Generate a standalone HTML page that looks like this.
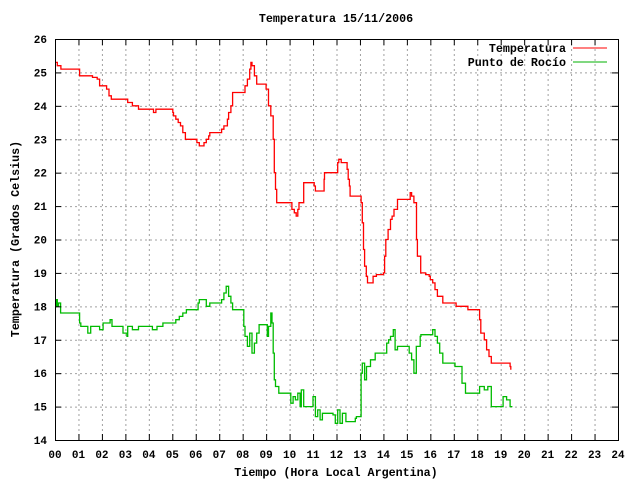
<!DOCTYPE html>
<html><head><meta charset="utf-8"><style>
html,body{margin:0;padding:0;background:#fff}
svg{display:block}
text{font-family:"Liberation Mono","DejaVu Sans Mono",monospace;font-weight:bold;fill:#000}
</style></head><body>
<svg id="chart" width="640" height="480" viewBox="0 0 640 480" xmlns="http://www.w3.org/2000/svg">
<rect width="640" height="480" fill="#fff"/>
<g id="grid"></g>
<g id="series"></g>
<g id="axes"></g>
<text x="336" y="22" text-anchor="middle" font-size="11.7">Temperatura 15/11/2006</text>
<text x="336" y="476" text-anchor="middle" font-size="11.7">Tiempo (Hora Local Argentina)</text>
<text transform="translate(19,239) rotate(-90)" text-anchor="middle" font-size="11.7">Temperatura (Grados Celsius)</text>
<g>
<text x="566" y="52" text-anchor="end" font-size="11.7">Temperatura</text>
<line x1="573" y1="48" x2="607" y2="48" stroke="#ff0000" stroke-width="1"/>
<text x="566" y="66" text-anchor="end" font-size="11.7">Punto de Rocío</text>
<line x1="573" y1="62" x2="607" y2="62" stroke="#00b000" stroke-width="1"/>
</g>
</svg>
<script>
const xTicks=["00","01","02","03","04","05","06","07","08","09","10","11","12","13","14","15","16","17","18","19","20","21","22","23","24"];
const yTicks=[14,15,16,17,18,19,20,21,22,23,24,25,26];
const tempHours=[0,0.1,0.25,1.04,1.05,1.6,1.8,1.9,2.06,2.2,2.3,2.4,3.07,3.1,3.3,3.56,4.13,4.2,4.3,4.5,5.02,5.05,5.15,5.25,5.35,5.45,5.56,6.0,6.05,6.15,6.32,6.35,6.45,6.55,6.6,7.03,7.1,7.2,7.35,7.4,7.5,7.57,8.03,8.1,8.2,8.3,8.35,8.4,8.5,8.6,8.97,9.0,9.1,9.2,9.3,9.35,9.4,9.45,10.03,10.1,10.2,10.28,10.35,10.4,10.56,10.6,11.02,11.05,11.1,11.44,11.47,11.49,12.01,12.05,12.1,12.2,12.41,12.45,12.5,12.55,12.58,13.03,13.05,13.1,13.15,13.2,13.27,13.32,13.52,13.56,13.7,14.0,14.05,14.1,14.2,14.3,14.37,14.45,14.6,15.03,15.14,15.2,15.3,15.41,15.45,15.59,15.8,15.95,16.0,16.1,16.2,16.3,16.53,17.07,17.1,17.55,17.6,18.07,18.1,18.15,18.3,18.4,18.5,18.6,19.37,19.4,19.43];
const tempVals=[25.3,25.2,25.1,25.1,24.9,24.85,24.8,24.6,24.6,24.5,24.3,24.2,24.2,24.1,24.0,23.9,23.9,23.8,23.9,23.9,23.8,23.7,23.6,23.5,23.4,23.2,23.0,23.0,22.9,22.8,22.8,22.9,23.0,23.1,23.2,23.2,23.3,23.4,23.6,23.8,24.0,24.4,24.4,24.6,24.8,25.1,25.3,25.2,24.9,24.65,24.65,24.5,24.0,23.7,23.0,22.0,21.5,21.1,21.1,20.9,20.8,20.7,20.9,21.1,21.1,21.7,21.7,21.6,21.45,21.45,21.8,22.0,22.0,22.3,22.4,22.3,22.3,22.1,21.8,21.6,21.3,21.3,21.1,20.5,19.7,19.2,18.9,18.7,18.7,18.9,18.95,19.0,19.5,20.0,20.3,20.6,20.7,20.9,21.2,21.2,21.4,21.3,21.1,20.0,19.5,19.0,18.95,18.9,18.8,18.7,18.5,18.3,18.1,18.1,18.0,18.0,17.9,17.9,17.6,17.2,17.0,16.7,16.5,16.3,16.3,16.2,16.1];
const dewHours=[0,0.05,0.1,0.15,0.24,1.04,1.05,1.1,1.3,1.4,1.5,1.52,1.8,1.9,2.0,2.05,2.35,2.43,2.63,2.9,3.07,3.1,3.3,3.56,4.13,4.15,4.3,4.35,4.58,4.6,5.1,5.15,5.3,5.45,5.6,6.03,6.1,6.15,6.35,6.45,6.5,6.6,7.03,7.1,7.2,7.3,7.4,7.5,7.57,8.0,8.05,8.1,8.2,8.3,8.4,8.5,8.6,8.7,9.0,9.05,9.1,9.2,9.25,9.3,9.35,9.4,9.54,10.0,10.05,10.15,10.25,10.35,10.45,10.5,10.6,11.0,11.1,11.2,11.3,11.4,11.5,11.85,11.95,12.05,12.15,12.25,12.4,12.8,12.85,13.05,13.1,13.2,13.28,13.45,13.65,14.05,14.14,14.22,14.3,14.42,14.5,14.6,15.03,15.1,15.2,15.3,15.35,15.4,15.57,15.6,16.05,16.1,16.2,16.3,16.4,16.53,17.0,17.05,17.3,17.35,17.5,18.0,18.1,18.3,18.45,18.6,19.05,19.1,19.25,19.4,19.5];
const dewVals=[18.0,18.2,18.0,18.1,17.8,17.8,17.5,17.4,17.4,17.2,17.2,17.4,17.4,17.3,17.3,17.5,17.6,17.4,17.4,17.2,17.1,17.4,17.3,17.4,17.4,17.3,17.3,17.4,17.4,17.5,17.5,17.6,17.7,17.8,17.9,17.9,18.1,18.2,18.2,18.0,18.0,18.1,18.1,18.2,18.4,18.6,18.3,18.1,17.9,17.9,17.4,17.1,16.8,17.2,16.6,16.9,17.2,17.45,17.45,17.1,17.4,17.8,17.5,16.6,15.8,15.6,15.4,15.4,15.1,15.3,15.2,15.4,15.0,15.5,15.0,15.3,14.7,14.9,14.6,14.8,14.8,14.75,14.5,14.9,14.5,14.8,14.55,14.65,14.7,16.0,16.3,15.8,16.2,16.4,16.6,16.6,16.9,17.0,17.1,17.3,16.7,16.8,16.8,16.6,16.4,16.0,16.0,16.8,17.1,17.15,17.15,17.3,17.1,16.9,16.6,16.3,16.3,16.2,16.2,15.7,15.4,15.4,15.6,15.5,15.6,15.0,15.0,15.3,15.2,15.0,15.0];
const X0=55,X1=618,Y0=440,Y1=39,HMAX=24,VMIN=14,VMAX=26;
function xs(h){return X0+(X1-X0)*h/HMAX;}
function ys(v){return Y0-(Y0-Y1)*(v-VMIN)/(VMAX-VMIN);}
const NS="http://www.w3.org/2000/svg";
const grid=document.getElementById('grid'),axes=document.getElementById('axes'),series=document.getElementById('series');
function mk(tag,attrs,parent){const e=document.createElementNS(NS,tag);for(const k in attrs)e.setAttribute(k,attrs[k]);parent.appendChild(e);return e;}
xTicks.forEach((lab,i)=>{
  const x=xs(i)+0.5;
  if(i>0&&i<xTicks.length-1){
    const g=mk('line',{x1:x,y1:Y1,x2:x,y2:Y0,stroke:'#a0a0a0','stroke-dasharray':'2,3'},grid);
    
    
    const t1=mk('line',{x1:x,y1:Y0,x2:x,y2:Y0-6,stroke:'#000'},axes);
    
    
    const t2=mk('line',{x1:x,y1:Y1,x2:x,y2:Y1+6,stroke:'#000'},axes);
    
    
  }
  const tx=mk('text',{x:xs(i),y:458,'text-anchor':'middle','font-size':'11'},axes);
  tx.textContent=lab;
  
  
});
yTicks.forEach(v=>{
  const y=ys(v)+0.5;
  if(v>VMIN&&v<VMAX){
    const g=mk('line',{x1:X0,y1:y,x2:X1,y2:y,stroke:'#a0a0a0','stroke-dasharray':'2,3'},grid);
    
    
    const t1=mk('line',{x1:X0,y1:y,x2:X0+6,y2:y,stroke:'#000'},axes);
    
    
    const t2=mk('line',{x1:X1,y1:y,x2:X1-6,y2:y,stroke:'#000'},axes);
    
    
  }
  const tx=mk('text',{x:47,y:ys(v)+4,'text-anchor':'end','font-size':'11'},axes);
  tx.textContent=String(v);
  
  
});
const frame=mk('rect',{x:X0+0.5,y:Y1+0.5,width:X1-X0,height:Y0-Y1,fill:'none',stroke:'#000'},axes);


function stepPts(hs,vs){
  const out=[];
  for(let i=0;i<hs.length;i++){
    const x=xs(hs[i]).toFixed(1);
    if(i>0)out.push(x+','+ys(vs[i-1]).toFixed(1));
    out.push(x+','+ys(vs[i]).toFixed(1));
  }
  return out.join(' ');
}
const tl=mk('polyline',{points:stepPts(tempHours,tempVals),fill:'none',stroke:'#ff0000','stroke-width':'1.3'},series);


const dl=mk('polyline',{points:stepPts(dewHours,dewVals),fill:'none',stroke:'#00bb00','stroke-width':'1.3'},series);


</script>
</body></html>
